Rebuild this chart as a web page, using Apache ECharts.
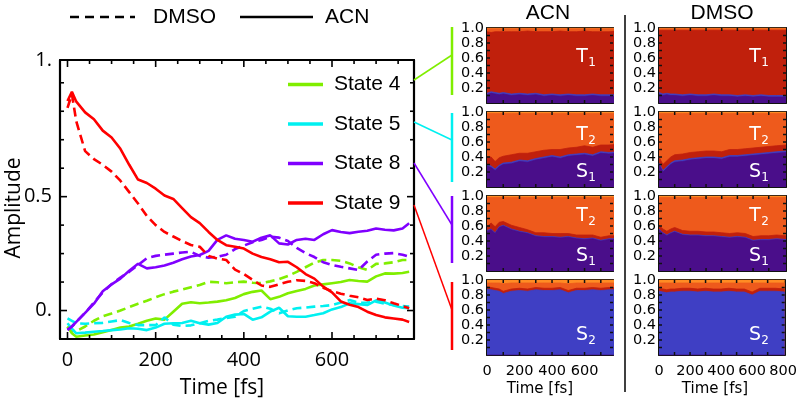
<!DOCTYPE html>
<html><head><meta charset="utf-8">
<script src="https://cdn.jsdelivr.net/npm/echarts@6/dist/echarts.min.js"></script>
<style>html,body{margin:0;padding:0;background:#fff}#c{width:800px;height:403px}</style>
</head><body><div id="c"></div>
<script>
// ---------- main panel data (amplitude vs time) ----------
const times = [0,10,20,40,60,80,100,120,140,160,180,200,220,240,260,280,300,320,340,360,380,400,420,440,460,480,500,520,540,560,580,600,620,640,660,680,700,720,740,760,775];
const acn9 = [0.92,0.96,0.917,0.87,0.84,0.79,0.76,0.71,0.64,0.575,0.56,0.535,0.505,0.49,0.45,0.41,0.384,0.345,0.31,0.287,0.28,0.272,0.25,0.235,0.225,0.212,0.214,0.19,0.16,0.14,0.105,0.08,0.04,0.025,0.015,-0.005,-0.02,-0.03,-0.035,-0.04,-0.05];
const dmso9 = [0.89,0.95,0.83,0.70,0.665,0.64,0.61,0.57,0.52,0.47,0.415,0.375,0.345,0.325,0.305,0.288,0.28,0.24,0.228,0.222,0.18,0.16,0.135,0.11,0.104,0.115,0.126,0.133,0.13,0.12,0.1,0.085,0.074,0.065,0.058,0.046,0.052,0.045,0.032,0.02,0.01];
const acn8 = [-0.085,-0.07,-0.05,-0.01,0.03,0.085,0.115,0.14,0.175,0.205,0.185,0.19,0.198,0.21,0.225,0.237,0.244,0.262,0.31,0.33,0.315,0.31,0.302,0.32,0.33,0.295,0.29,0.31,0.315,0.31,0.335,0.353,0.345,0.34,0.346,0.35,0.36,0.355,0.352,0.36,0.383];
const dmso8 = [-0.085,-0.07,-0.05,-0.01,0.035,0.08,0.115,0.145,0.17,0.2,0.23,0.24,0.245,0.25,0.255,0.258,0.24,0.232,0.236,0.245,0.27,0.285,0.3,0.31,0.324,0.32,0.305,0.275,0.252,0.235,0.212,0.2,0.192,0.185,0.178,0.215,0.245,0.25,0.252,0.245,0.236];
const acn4 = [-0.07,-0.1,-0.115,-0.11,-0.105,-0.095,-0.085,-0.075,-0.07,-0.058,-0.045,-0.035,-0.04,-0.005,0.03,0.036,0.032,0.035,0.039,0.045,0.055,0.072,0.082,0.088,0.05,0.06,0.076,0.086,0.095,0.11,0.115,0.12,0.125,0.134,0.13,0.127,0.15,0.163,0.162,0.165,0.17];
const dmso4 = [-0.07,-0.09,-0.09,-0.07,-0.045,-0.025,-0.013,0.0,0.015,0.03,0.043,0.058,0.072,0.083,0.092,0.102,0.112,0.126,0.124,0.12,0.124,0.127,0.122,0.12,0.128,0.138,0.152,0.17,0.19,0.21,0.222,0.222,0.218,0.207,0.19,0.178,0.205,0.207,0.212,0.222,0.222];
const acn5 = [-0.056,-0.08,-0.1,-0.097,-0.093,-0.09,-0.086,-0.083,-0.078,-0.08,-0.086,-0.075,-0.058,-0.056,-0.055,-0.045,-0.056,-0.062,-0.055,-0.027,-0.018,-0.015,-0.04,-0.03,-0.005,0.012,-0.025,-0.027,-0.027,-0.02,-0.012,0.005,0.015,0.032,0.028,0.024,0.045,0.035,0.022,0.012,0.01];
const dmso5 = [-0.034,-0.045,-0.056,-0.058,-0.056,-0.054,-0.048,-0.042,-0.055,-0.064,-0.064,-0.064,-0.03,-0.062,-0.068,-0.065,-0.056,-0.045,-0.04,-0.033,-0.027,-0.002,0.008,0.017,0.008,-0.012,0.0,0.01,0.013,0.017,0.02,0.024,0.035,0.046,0.034,0.035,0.039,0.03,0.024,0.02,0.017];
const stateNames = ['State 4','State 5','State 8','State 9'];
const xTickLabels = [0,200,400,600];
const yTickLabels = [0,0.5,1.1];
const xTickMarks = [0,50,100,150,200,250,300,350,400,450,500,550,600,650,700,750];
const yTickMarks = [0,0.125,0.25,0.375,0.5,0.625,0.75,0.875,1.0,1.1];

// ---------- population panels (fractions, stacked S1,S2,T1,T2,T3) ----------
const popT = [0,25,50,75,100,150,200,250,300,350,400,450,500,550,600,650,700,750,810];
const acnP4_S1 = [0.11,0.13,0.12,0.11,0.12,0.10,0.11,0.10,0.11,0.09,0.10,0.09,0.10,0.09,0.09,0.10,0.09,0.09,0.09];
const acnP4_S2 = [0.02,0.02,0.02,0.02,0.02,0.02,0.02,0.02,0.02,0.02,0.02,0.02,0.02,0.02,0.02,0.02,0.02,0.02,0.02];
const acnP4_T1 = [0.82,0.79,0.81,0.82,0.81,0.83,0.82,0.84,0.82,0.84,0.83,0.85,0.83,0.84,0.85,0.83,0.84,0.84,0.85];
const acnP4_T2 = [0.04,0.05,0.04,0.04,0.04,0.04,0.04,0.03,0.04,0.04,0.04,0.03,0.04,0.04,0.03,0.04,0.04,0.04,0.03];
const acnP4_T3 = [0.01,0.01,0.01,0.01,0.01,0.01,0.01,0.01,0.01,0.01,0.01,0.01,0.01,0.01,0.01,0.01,0.01,0.01,0.01];

const acnP5_S1 = [0.28,0.26,0.22,0.27,0.30,0.31,0.34,0.33,0.36,0.38,0.40,0.38,0.41,0.42,0.43,0.41,0.45,0.44,0.45];
const acnP5_S2 = [0.02,0.02,0.02,0.02,0.02,0.02,0.02,0.02,0.02,0.02,0.02,0.02,0.02,0.02,0.02,0.02,0.02,0.02,0.02];
const acnP5_T1 = [0.10,0.12,0.10,0.10,0.09,0.10,0.09,0.10,0.09,0.09,0.08,0.10,0.09,0.09,0.10,0.10,0.09,0.10,0.10];
const acnP5_T2 = [0.58,0.58,0.64,0.59,0.57,0.55,0.53,0.53,0.51,0.49,0.48,0.48,0.46,0.45,0.43,0.45,0.42,0.42,0.41];
const acnP5_T3 = [0.02,0.02,0.02,0.02,0.02,0.02,0.02,0.02,0.02,0.02,0.02,0.02,0.02,0.02,0.02,0.02,0.02,0.02,0.02];

const acnP8_S1 = [0.53,0.55,0.50,0.58,0.60,0.55,0.52,0.50,0.46,0.45,0.45,0.44,0.45,0.43,0.42,0.43,0.40,0.42,0.42];
const acnP8_S2 = [0.01,0.01,0.01,0.01,0.01,0.01,0.01,0.01,0.01,0.01,0.01,0.01,0.01,0.01,0.01,0.01,0.01,0.01,0.01];
const acnP8_T1 = [0.05,0.08,0.08,0.06,0.05,0.05,0.05,0.04,0.04,0.05,0.04,0.05,0.04,0.04,0.05,0.04,0.04,0.04,0.04];
const acnP8_T2 = [0.39,0.34,0.39,0.33,0.32,0.37,0.40,0.43,0.47,0.47,0.48,0.48,0.48,0.50,0.50,0.50,0.53,0.51,0.51];
const acnP8_T3 = [0.02,0.02,0.02,0.02,0.02,0.02,0.02,0.02,0.02,0.02,0.02,0.02,0.02,0.02,0.02,0.02,0.02,0.02,0.02];

const acnP9_S1 = [0,0,0,0,0,0,0,0,0,0,0,0,0,0,0,0,0,0,0];
const acnP9_S2 = [0.88,0.87,0.86,0.85,0.82,0.85,0.86,0.85,0.87,0.86,0.86,0.87,0.83,0.86,0.86,0.87,0.86,0.87,0.87];
const acnP9_T1 = [0.03,0.03,0.03,0.03,0.03,0.03,0.03,0.03,0.03,0.03,0.03,0.03,0.03,0.03,0.03,0.03,0.03,0.03,0.03];
const acnP9_T2 = [0.05,0.06,0.07,0.08,0.10,0.08,0.07,0.08,0.06,0.07,0.07,0.06,0.09,0.07,0.07,0.06,0.07,0.06,0.06];
const acnP9_T3 = [0.04,0.04,0.04,0.04,0.05,0.04,0.04,0.04,0.04,0.04,0.04,0.04,0.05,0.04,0.04,0.04,0.04,0.04,0.04];

const dmsoP4_S1 = [0.12,0.10,0.11,0.10,0.10,0.09,0.10,0.09,0.09,0.10,0.09,0.09,0.08,0.09,0.08,0.09,0.08,0.08,0.08];
const dmsoP4_S2 = [0.02,0.02,0.02,0.02,0.02,0.02,0.02,0.02,0.02,0.02,0.02,0.02,0.02,0.02,0.02,0.02,0.02,0.02,0.02];
const dmsoP4_T1 = [0.83,0.85,0.84,0.85,0.85,0.86,0.85,0.86,0.86,0.85,0.86,0.86,0.87,0.86,0.87,0.86,0.87,0.87,0.87];
const dmsoP4_T2 = [0.02,0.02,0.02,0.02,0.02,0.02,0.02,0.02,0.02,0.02,0.02,0.02,0.02,0.02,0.02,0.02,0.02,0.02,0.02];
const dmsoP4_T3 = [0.01,0.01,0.01,0.01,0.01,0.01,0.01,0.01,0.01,0.01,0.01,0.01,0.01,0.01,0.01,0.01,0.01,0.01,0.01];

const dmsoP5_S1 = [0.30,0.20,0.25,0.30,0.33,0.34,0.36,0.37,0.38,0.38,0.37,0.40,0.40,0.41,0.42,0.43,0.44,0.45,0.46];
const dmsoP5_S2 = [0.02,0.02,0.02,0.02,0.02,0.02,0.02,0.02,0.02,0.02,0.02,0.02,0.02,0.02,0.02,0.02,0.02,0.02,0.02];
const dmsoP5_T1 = [0.08,0.08,0.08,0.08,0.08,0.08,0.08,0.08,0.08,0.08,0.08,0.08,0.08,0.08,0.08,0.08,0.08,0.08,0.08];
const dmsoP5_T2 = [0.58,0.68,0.63,0.58,0.55,0.54,0.52,0.51,0.50,0.50,0.51,0.48,0.48,0.47,0.46,0.45,0.44,0.43,0.42];
const dmsoP5_T3 = [0.02,0.02,0.02,0.02,0.02,0.02,0.02,0.02,0.02,0.02,0.02,0.02,0.02,0.02,0.02,0.02,0.02,0.02,0.02];

const dmsoP8_S1 = [0.55,0.50,0.47,0.50,0.52,0.48,0.47,0.47,0.46,0.46,0.45,0.44,0.45,0.44,0.40,0.41,0.41,0.42,0.41];
const dmsoP8_S2 = [0.01,0.01,0.01,0.01,0.01,0.01,0.01,0.01,0.01,0.01,0.01,0.01,0.01,0.01,0.01,0.01,0.01,0.01,0.01];
const dmsoP8_T1 = [0.05,0.05,0.05,0.05,0.05,0.05,0.05,0.05,0.05,0.05,0.05,0.05,0.05,0.05,0.05,0.05,0.05,0.05,0.05];
const dmsoP8_T2 = [0.37,0.42,0.45,0.42,0.40,0.44,0.45,0.45,0.46,0.46,0.47,0.48,0.47,0.48,0.52,0.51,0.51,0.50,0.51];
const dmsoP8_T3 = [0.02,0.02,0.02,0.02,0.02,0.02,0.02,0.02,0.02,0.02,0.02,0.02,0.02,0.02,0.02,0.02,0.02,0.02,0.02];

const dmsoP9_S1 = [0,0,0,0,0,0,0,0,0,0,0,0,0,0,0,0,0,0,0];
const dmsoP9_S2 = [0.85,0.84,0.83,0.84,0.84,0.85,0.85,0.84,0.85,0.84,0.84,0.85,0.84,0.84,0.80,0.85,0.85,0.85,0.84];
const dmsoP9_T1 = [0.04,0.04,0.04,0.04,0.04,0.04,0.04,0.04,0.04,0.04,0.04,0.04,0.04,0.04,0.04,0.04,0.04,0.04,0.04];
const dmsoP9_T2 = [0.07,0.08,0.09,0.08,0.08,0.07,0.07,0.08,0.07,0.08,0.08,0.07,0.08,0.08,0.12,0.07,0.07,0.07,0.08];
const dmsoP9_T3 = [0.04,0.04,0.04,0.04,0.04,0.04,0.04,0.04,0.04,0.04,0.04,0.04,0.04,0.04,0.04,0.04,0.04,0.04,0.04];

const popTickLabelsACN = [0,200,400,600];
const popTickLabelsDMSO = [0,200,400,600,800];
const popYLabels = [0.2,0.4,0.6,0.8,1.0];
const popXTickMarks = [100,200,300,400,500,600,700];
const popYTickMarks = [0.1,0.2,0.3,0.4,0.5,0.6,0.7,0.8,0.9];

// ---------- styling ----------
const stateColors = ['#80EE00','#00F0F0','#8000FF','#FF0000'];
const popColors = ['#4A0E8A','#3F3FC4','#C0200C','#EE5A1C','#FF8C24'];
const BLACK = '#000';
const MAINFONT = 'Open Sans';
const SMALLFONT = 'DejaVu Sans';

const chart = echarts.init(document.getElementById('c'), null, {renderer:'canvas'});

const MAIN = {left:60, top:60, width:354, height:279};
const grids = [MAIN];
const xAxes = [], yAxes = [], series = [];
const frameLine = {show:true, onZero:false, lineStyle:{color:BLACK, width:2.2}};

const mainXmin=-17, mainXmax=786, mainYmin=-0.125, mainYmax=1.1;
['bottom','top'].forEach(pos=>{
  xAxes.push({gridIndex:0,type:'value',position:pos,min:mainXmin,max:mainXmax,
    axisLine:frameLine, splitLine:{show:false}, axisTick:{show:false},
    axisLabel:{show:pos==='bottom',customValues:xTickLabels,fontSize:20,fontFamily:MAINFONT,color:BLACK,margin:11}});
});
['left','right'].forEach(pos=>{
  yAxes.push({gridIndex:0,type:'value',position:pos,min:mainYmin,max:mainYmax,
    axisLine:frameLine, splitLine:{show:false}, axisTick:{show:false},
    axisLabel:{show:pos==='left',customValues:yTickLabels,fontSize:20,fontFamily:MAINFONT,color:BLACK,margin:8,
      formatter:v=>Math.abs(v)<1e-9?'0.':(Math.abs(v-0.5)<1e-9?'0.5':'1.')}});
});

// tick marks as custom series, positioned through the axes' scales
function xTickSeries(xi, yi, ymin, ymax, vals, lenFn, color, w){
  return {type:'custom', xAxisIndex:xi, yAxisIndex:yi, silent:true, clip:false, z:20,
    data: vals.map(v=>[v, ymin]),
    renderItem:(p, api)=>{
      const v = api.value(0), len = lenFn(v);
      const b = api.coord([v, ymin]), t = api.coord([v, ymax]);
      return {type:'group', children:[
        {type:'line', shape:{x1:b[0],y1:b[1],x2:b[0],y2:b[1]-len}, style:{stroke:color,lineWidth:w}},
        {type:'line', shape:{x1:t[0],y1:t[1],x2:t[0],y2:t[1]+len}, style:{stroke:color,lineWidth:w}}]};
    }};
}
function yTickSeries(xi, yi, xmin, xmax, vals, lenFn, color, w){
  return {type:'custom', xAxisIndex:xi, yAxisIndex:yi, silent:true, clip:false, z:20,
    data: vals.map(v=>[xmin, v]),
    renderItem:(p, api)=>{
      const v = api.value(1), len = lenFn(v);
      const l = api.coord([xmin, v]), r = api.coord([xmax, v]);
      return {type:'group', children:[
        {type:'line', shape:{x1:l[0],y1:l[1],x2:l[0]+len,y2:l[1]}, style:{stroke:color,lineWidth:w}},
        {type:'line', shape:{x1:r[0],y1:r[1],x2:r[0]-len,y2:r[1]}, style:{stroke:color,lineWidth:w}}]};
    }};
}
series.push(xTickSeries(0,0,mainYmin,mainYmax,xTickMarks,v=>(v%200===0?7:4),BLACK,1.6));
series.push(yTickSeries(0,0,mainXmin,mainXmax,yTickMarks,v=>((v===0||v===0.5||v===1.1)?7:4),BLACK,1.6));

const mainSets = [
  ['State 4', acn4, dmso4, 0],
  ['State 5', acn5, dmso5, 1],
  ['State 8', acn8, dmso8, 2],
  ['State 9', acn9, dmso9, 3]
];
mainSets.forEach(([name, a, d, ci])=>{
  series.push({name, type:'line', xAxisIndex:0, yAxisIndex:0, data:times.map((t,i)=>[t,a[i]]),
    showSymbol:false, symbol:'none', color:stateColors[ci], lineStyle:{width:2.6,color:stateColors[ci]}, z:3});
  series.push({name, type:'line', xAxisIndex:0, yAxisIndex:0, data:times.map((t,i)=>[t,d[i]]),
    showSymbol:false, symbol:'none', color:stateColors[ci], lineStyle:{width:2.6,color:stateColors[ci],type:[9,5]}, z:3});
});

const panelTops = [28,112,196,280];
const panels = [
  [acnP4_S1,acnP4_S2,acnP4_T1,acnP4_T2,acnP4_T3],
  [acnP5_S1,acnP5_S2,acnP5_T1,acnP5_T2,acnP5_T3],
  [acnP8_S1,acnP8_S2,acnP8_T1,acnP8_T2,acnP8_T3],
  [acnP9_S1,acnP9_S2,acnP9_T1,acnP9_T2,acnP9_T3],
  [dmsoP4_S1,dmsoP4_S2,dmsoP4_T1,dmsoP4_T2,dmsoP4_T3],
  [dmsoP5_S1,dmsoP5_S2,dmsoP5_T1,dmsoP5_T2,dmsoP5_T3],
  [dmsoP8_S1,dmsoP8_S2,dmsoP8_T1,dmsoP8_T2,dmsoP8_T3],
  [dmsoP9_S1,dmsoP9_S2,dmsoP9_T1,dmsoP9_T2,dmsoP9_T3]
];
panels.forEach((comps,k)=>{
  const col = k<4?0:1, row = k%4;
  const g = grids.length;
  grids.push({left: col?659:487, top: panelTops[row], width: col?127:126, height: 75});
  const xmax = col?810:775;
  const xl = col?popTickLabelsDMSO:popTickLabelsACN;
  const xi = xAxes.length, yi = yAxes.length;
  const sl = {show:true,onZero:false,lineStyle:{color:'#111',width:2}};
  ['bottom','top'].forEach(pos=>xAxes.push({gridIndex:g,type:'value',position:pos,min:0,max:xmax,
    axisLine:sl, splitLine:{show:false}, axisTick:{show:false},
    axisLabel:{show:(pos==='bottom'&&row===3),customValues:xl,fontSize:14.5,fontFamily:SMALLFONT,color:BLACK,margin:9}}));
  ['left','right'].forEach(pos=>yAxes.push({gridIndex:g,type:'value',position:pos,min:0,max:1,
    axisLine:sl, splitLine:{show:false}, axisTick:{show:false},
    axisLabel:{show:pos==='left',customValues:popYLabels,fontSize:14.5,fontFamily:SMALLFONT,color:BLACK,margin:3,
      formatter:v=>v.toFixed(1)}}));
  const cum = [];
  comps.forEach((arr,ci)=>{
    cum.push(arr.map((v,i)=>(ci?cum[ci-1][i]:0)+v));
  });
  for(let ci=comps.length-1; ci>=0; ci--){
    series.push({type:'line', xAxisIndex:xi, yAxisIndex:yi, data:popT.map((t,i)=>[t,Math.min(1,cum[ci][i])]),
      showSymbol:false, symbol:'none', silent:true, clip:true,
      lineStyle:{width:0.8,color:popColors[ci]}, areaStyle:{color:popColors[ci], opacity:1, origin:'start'},
      itemStyle:{color:popColors[ci]}, z:2});
  }
  series.push(xTickSeries(xi,yi,0,1,popXTickMarks,()=>3,'#111',1.5));
  series.push(yTickSeries(xi,yi,0,xmax,popYTickMarks,()=>3,'#111',1.5));
});

// ---------- decorations ----------
function txt(text,x,y,size,fam,opt){
  opt=opt||{};
  return {type:'text', x, y, rotation:opt.rot||0, z:100, silent:true,
    style:{text, fill:opt.fill||BLACK, fontSize:size, fontFamily:fam,
      align:opt.align||'center', textAlign:opt.align||'center', verticalAlign:'middle', textVerticalAlign:'middle'}};
}
function ln(x1,y1,x2,y2,color,w,dash){
  const st = {stroke:color,lineWidth:w};
  if (dash) st.lineDash = dash;
  return {type:'line', z:100, silent:true, shape:{x1,y1,x2,y2}, style:st};
}
function sub(main, s, x, y){
  return [txt(main,x,y,19,SMALLFONT,{fill:'#fff'}), txt(s,x+10,y+6,12,SMALLFONT,{fill:'#fff'})];
}
const graphic = [
  ln(70,17,135,17,BLACK,2.6,[9,6]),
  txt('DMSO',153,17,21,'Liberation Sans',{align:'left'}),
  ln(240,17,313,17,BLACK,2.6),
  txt('ACN',325,17,21,'Liberation Sans',{align:'left'}),
  txt('Amplitude',14,208,21,MAINFONT,{rot:Math.PI/2}),
  txt('Time [fs]',222,388,21,MAINFONT),
  txt('ACN',548,13,21,'Liberation Sans'),
  txt('DMSO',722,13,21,'Liberation Sans'),
  txt('Time [fs]',540,389,15,SMALLFONT),
  txt('Time [fs]',715,389,15,SMALLFONT),
  ln(625,15,625,392,BLACK,1.5),
  ln(414,80,452,55,stateColors[0],1.5), ln(452,27,452,95,stateColors[0],2.5),
  ln(414,122,452,140,stateColors[1],1.5), ln(452,113,452,182,stateColors[1],2.5),
  ln(414,163,452,225,stateColors[2],1.5), ln(452,196,452,263,stateColors[2],2.5),
  ln(414,205,452,310,stateColors[3],1.5), ln(452,282,452,350,stateColors[3],2.5)
];
[0,1].forEach(c=>{
  const X = c?755:582;
  graphic.push(...sub('T','1',X,57));
  graphic.push(...sub('T','2',X,135));
  graphic.push(...sub('S','1',X,172));
  graphic.push(...sub('T','2',X,216));
  graphic.push(...sub('S','1',X,256));
  graphic.push(...sub('S','2',X,335));
});

chart.setOption({
  animation:false,
  backgroundColor:'#fff',
  grid:grids, xAxis:xAxes, yAxis:yAxes, series,
  legend:{show:true, data:stateNames, orient:'vertical', left:288, top:74, itemWidth:35, itemHeight:3.5, icon:'rect',
    itemGap:18.5, selectedMode:false, padding:0,
    textStyle:{fontSize:21, fontFamily:'Liberation Sans', color:BLACK, padding:[0,0,0,6]}},
  graphic
});
</script></body></html>
